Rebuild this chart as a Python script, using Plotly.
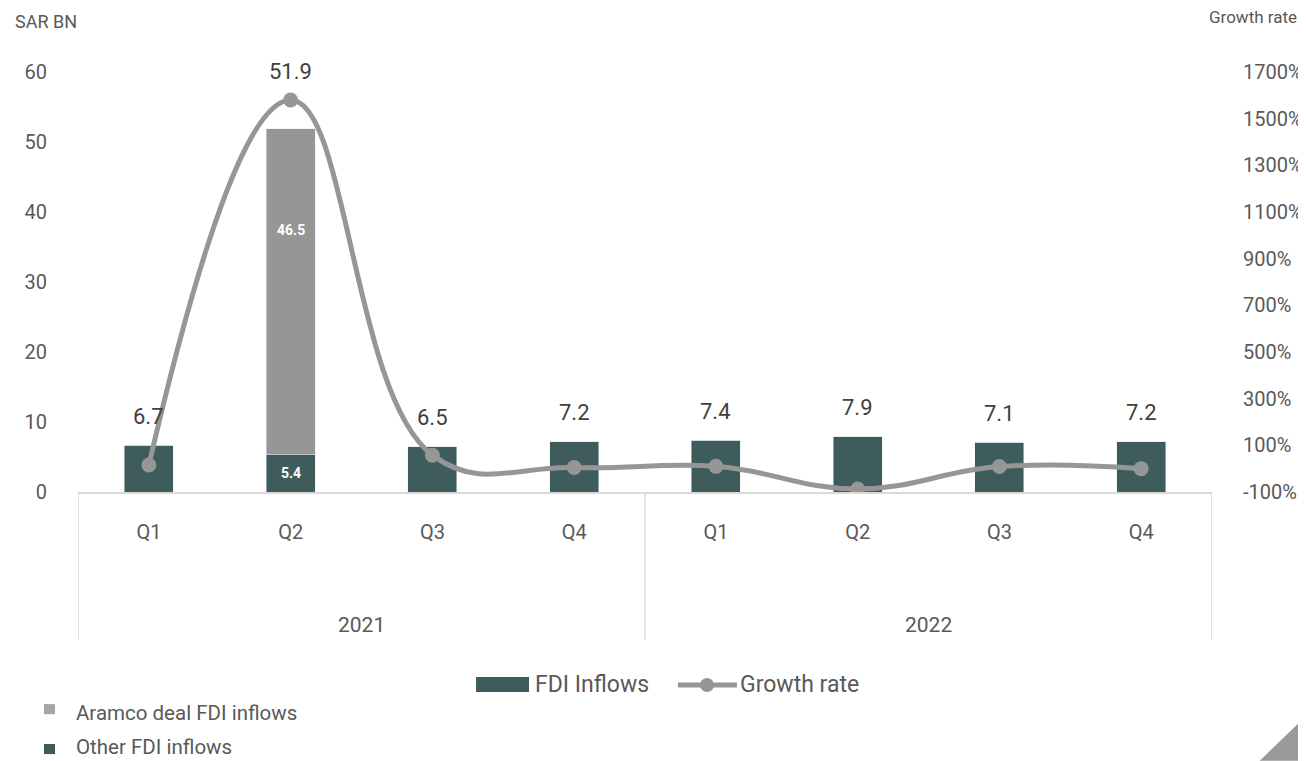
import plotly.graph_objects as go

quarters = ["Q1", "Q2", "Q3", "Q4", "Q1", "Q2", "Q3", "Q4"]
years = ["2021", "2021", "2021", "2021", "2022", "2022", "2022", "2022"]
other_fdi = [6.7, 5.4, 6.5, 7.2, 7.4, 7.9, 7.1, 7.2]
aramco_fdi = [0, 46.5, 0, 0, 0, 0, 0, 0]
growth_rate = [16, 1580, 58, 5, 10, -87, 9, 0]
left_ticks = [0, 10, 20, 30, 40, 50, 60]
right_ticks = [-100, 100, 300, 500, 700, 900, 1100, 1300, 1500, 1700]

DARK = "#3d5c5b"
GRAY = "#969696"
TXT = "#595959"
LBL = "#404040"
FONT = "Roboto"

x = list(range(len(quarters)))
totals = [round(o + a, 1) for o, a in zip(other_fdi, aramco_fdi)]

fig = go.Figure()
fig.add_trace(go.Bar(x=x, y=other_fdi, name="FDI Inflows", marker_color=DARK,
                     width=0.345, hoverinfo="y", showlegend=False))
fig.add_trace(go.Bar(x=x, y=aramco_fdi, name="Aramco deal FDI inflows", marker_color=GRAY,
                     width=0.345, showlegend=False, hoverinfo="y"))
fig.add_trace(go.Scatter(x=x, y=growth_rate, name="Growth rate", yaxis="y2", showlegend=False,
                         mode="lines+markers", line=dict(color=GRAY, width=5, shape="spline", smoothing=1.2),
                         marker=dict(color=GRAY, size=15)))

annotations = []
for i, t in enumerate(totals):
    big = aramco_fdi[i] > 0
    annotations.append(dict(x=i, y=t, xref="x", yref="y", text=f"{t:.1f}", showarrow=False, yanchor="middle",
                            yshift=57 if big else 29, font=dict(family=FONT, size=22, color=LBL)))
for i, a in enumerate(aramco_fdi):
    if a > 0:
        annotations.append(dict(x=i, y=other_fdi[i] + a * 0.69, xref="x", yref="y", text=f"<b>{a:.1f}</b>",
                                showarrow=False, font=dict(family=FONT, size=14, color="white")))
        annotations.append(dict(x=i, y=other_fdi[i] / 2, xref="x", yref="y", text=f"<b>{other_fdi[i]:.1f}</b>",
                                showarrow=False, font=dict(family=FONT, size=14, color="white")))
for yr in sorted(set(years)):
    idx = [i for i, v in enumerate(years) if v == yr]
    annotations.append(dict(x=sum(idx) / len(idx), y=-0.317, xref="x", yref="paper", text=yr,
                            showarrow=False, yanchor="middle", font=dict(family=FONT, size=21, color=TXT)))
annotations.append(dict(x=-0.057, y=1.12, xref="paper", yref="paper", text="SAR BN", showarrow=False,
                        xanchor="left", yanchor="middle", font=dict(family=FONT, size=18, color=TXT)))
annotations.append(dict(x=1.0, y=1.13, xref="paper", yref="paper", text="Growth rate", showarrow=False,
                        xanchor="left", yanchor="middle", xshift=-5, font=dict(family=FONT, size=17, color=TXT)))
annotations.append(dict(x=-0.0035, y=-0.527, xref="paper", yref="paper", text="Aramco deal FDI inflows",
                        showarrow=False, xanchor="left", yanchor="middle", font=dict(family=FONT, size=20.5, color=TXT)))
annotations.append(dict(x=-0.0035, y=-0.607, xref="paper", yref="paper", text="Other FDI inflows",
                        showarrow=False, xanchor="left", yanchor="middle", font=dict(family=FONT, size=20.5, color=TXT)))
# main legend texts
annotations.append(dict(x=0.4012, y=-0.4595, xref="paper", yref="paper", text="FDI Inflows",
                        showarrow=False, xanchor="left", yanchor="middle", font=dict(family=FONT, size=23, color=TXT)))
annotations.append(dict(x=0.582, y=-0.4595, xref="paper", yref="paper", text="Growth rate",
                        showarrow=False, xanchor="left", yanchor="middle", font=dict(family=FONT, size=23, color=TXT)))

shapes = []
bounds = [-0.5] + [i + 0.5 for i in range(len(years) - 1) if years[i] != years[i + 1]] + [len(years) - 0.5]
for b in bounds:
    shapes.append(dict(type="line", xref="x", yref="paper", x0=b, x1=b, y0=0, y1=-0.352,
                       line=dict(color="#d9d9d9", width=1.5)))
# main legend symbols
shapes.append(dict(type="rect", xref="paper", yref="paper", x0=0.351, x1=0.3977, y0=-0.4405, y1=-0.476,
                   fillcolor=DARK, line=dict(width=0)))
shapes.append(dict(type="line", xref="paper", yref="paper", x0=0.529, x1=0.5811, y0=-0.4595, y1=-0.4595,
                   line=dict(color=GRAY, width=5)))
shapes.append(dict(type="circle", xref="paper", yref="paper", x0=0.5547 - 0.0062, x1=0.5547 + 0.0062,
                   y0=-0.4595 - 0.0167, y1=-0.4595 + 0.0167, fillcolor=GRAY, line=dict(width=0)))
# side legend squares
shapes.append(dict(type="rect", xref="paper", yref="paper", x0=-0.0300, x1=-0.0203, y0=-0.505, y1=-0.529,
                   fillcolor="#a6a6a6", line=dict(width=0)))
shapes.append(dict(type="rect", xref="paper", yref="paper", x0=-0.0300, x1=-0.0203, y0=-0.600, y1=-0.624,
                   fillcolor=DARK, line=dict(width=0)))
# decorative corner triangle
shapes.append(dict(type="path", xref="paper", yref="paper",
                   path="M 1.083,-0.533 L 1.083,-0.64 L 1.042,-0.64 Z",
                   fillcolor="#999999", line=dict(width=0)))

fig.update_layout(
    width=1298, height=753,
    margin=dict(l=70, r=94, t=64, b=269, autoexpand=False),
    paper_bgcolor="white", plot_bgcolor="white",
    barmode="stack",
    showlegend=False,
    font=dict(family=FONT, color=TXT),
    xaxis=dict(range=[-0.5, len(x) - 0.5], tickvals=x, ticktext=quarters, showgrid=False, automargin=False,
               showline=True, linecolor="#d9d9d9", linewidth=2, ticks="", zeroline=False,
               tickfont=dict(family=FONT, size=20, color=TXT), ticklabelstandoff=21),
    yaxis=dict(range=[0, 60], tickvals=left_ticks, showgrid=False, zeroline=False, showline=False,
               automargin=False, tickfont=dict(family=FONT, size=20, color=TXT), ticklabelstandoff=30),
    yaxis2=dict(range=[-100, 1700], tickvals=right_ticks, ticktext=[f"{v}%" for v in right_ticks],
                overlaying="y", side="right", showgrid=False, zeroline=False, showline=False, automargin=False,
                tickfont=dict(family=FONT, size=20, color=TXT), ticklabelstandoff=30),
    annotations=annotations,
    shapes=shapes,
)

fig.write_html("out.html")
